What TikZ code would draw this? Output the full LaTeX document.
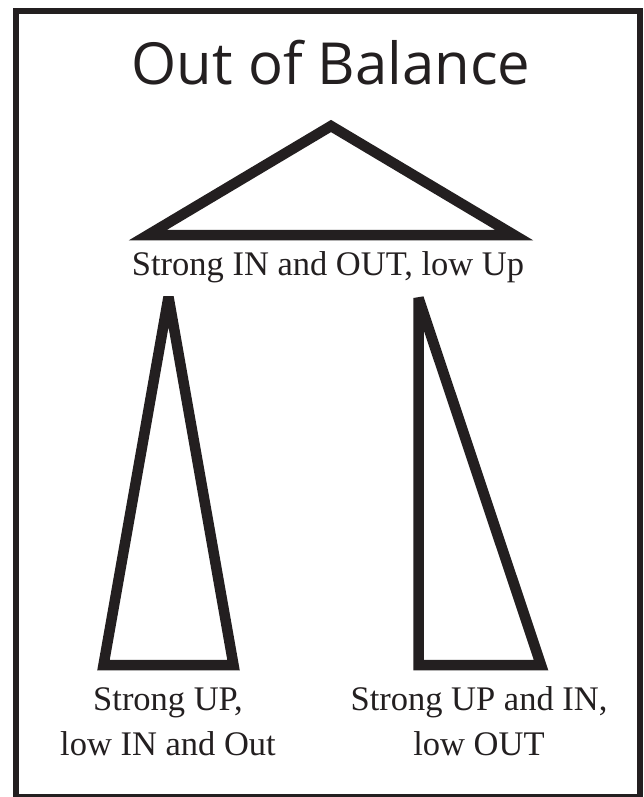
\documentclass[tikz,border=0pt]{standalone}
\usepackage{fontspec}
\setmainfont{Liberation Serif}
\newfontfamily\titlefont{Open Sans}
\usetikzlibrary{positioning}
\definecolor{Ink}{HTML}{231F20}
\tikzset{
  framebox/.style={draw=Ink,line width=6.5pt},
  tribox/.style={draw=Ink,line width=10.5pt,line join=miter,miter limit=4},
  titletext/.style={font=\titlefont\fontsize{58}{70}\selectfont,text=Ink,inner sep=0pt,anchor=base},
  labeltext/.style={font=\fontsize{34.5}{45}\selectfont,text=Ink,inner sep=0pt,align=center,anchor=base}
}

\begin{document}
\begin{tikzpicture}[x=1pt,y=-1pt]
  \useasboundingbox (0,0) rectangle (644,797);
  \draw[framebox] (16,11) rectangle (640,797);
  % title
  \node[titletext] (title) at (331,85) {Out of Balance};
  % top triangle
  \coordinate (ta) at (331,126);
  \coordinate (tl) at (148,235);
  \coordinate (tr) at (514,235);
  \draw[tribox] (ta) -- (tl) -- (tr) -- cycle;
  \node[labeltext] (toplabel) at (328,275) {Strong IN and OUT, low Up};
  % left triangle
  \coordinate (la) at (168.5,297);
  \coordinate (ll) at (103.5,665);
  \coordinate (lr) at (233.5,665);
  \draw[tribox] (la) -- (ll) -- (lr) -- cycle;
  \node[labeltext] (leftlabel) at (168,755) {Strong UP,\\low IN and Out};
  % right triangle
  \coordinate (ra) at (418.5,298);
  \coordinate (rl) at (418.5,665);
  \coordinate (rr) at (541,665);
  \draw[tribox] (ra) -- (rl) -- (rr) -- cycle;
  \node[labeltext] (rightlabel) at (479,755) {Strong UP and IN,\\low OUT};
\end{tikzpicture}
\end{document}
